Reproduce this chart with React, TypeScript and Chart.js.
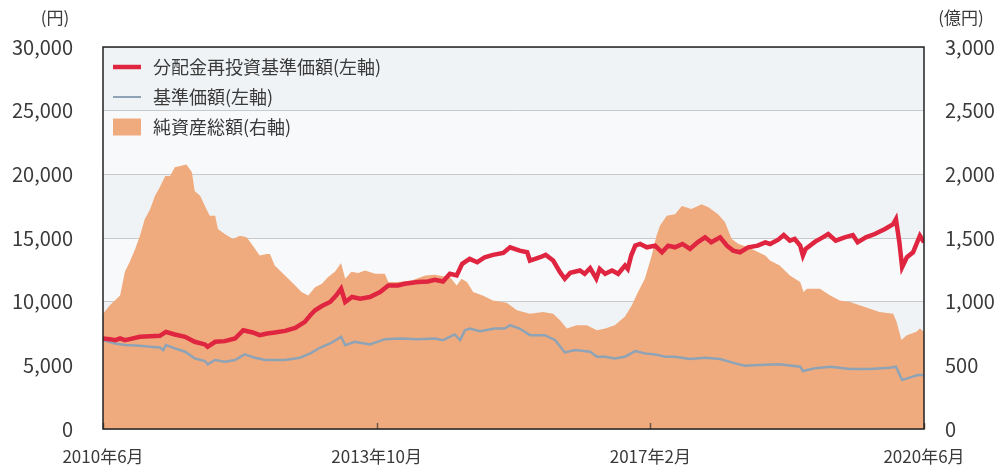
import React, { useEffect, useRef } from 'react';
import { Chart, registerables } from 'chart.js';

Chart.register(...registerables);

// ---- data (months since 2010-06) ----
const xTickMonths = [0, 40, 80, 120];
const xTickLabels = ['2010年6月', '2013年10月', '2017年2月', '2020年6月'];
const leftTickStep = 5000;
const leftMax = 30000;
const rightTickStep = 500;
const rightMax = 3000;

const seriesLabels = ['分配金再投資基準価額(左軸)', '基準価額(左軸)', '純資産総額(右軸)'];
const unitLeft = '(円)';
const unitRight = '(億円)';

// 純資産総額 (億円)
const assetMonths = [0, 1.0, 2.5, 3.2, 3.9, 4.7, 5.4, 6.1, 6.9, 7.6, 8.3, 9.1, 9.8, 10.5, 11.3, 12.2, 13.0, 13.4, 14.2, 14.9, 15.6, 16.4, 16.8, 17.8, 19.0, 20.0, 21.0, 21.9, 22.9, 23.9, 24.4, 25.1, 26.6, 28.1, 29.0, 30.0, 31.0, 32.0, 32.9, 33.9, 34.8, 35.4, 36.3, 37.3, 38.3, 39.8, 41.2, 41.7, 43.1, 45.1, 47.1, 48.5, 49.7, 50.7, 51.7, 52.4, 53.2, 54.1, 55.5, 57.0, 59.0, 59.5, 60.5, 62.4, 64.3, 65.8, 66.8, 67.8, 69.2, 70.7, 72.2, 73.4, 74.8, 76.3, 77.3, 78.2, 79.2, 80.2, 80.9, 81.4, 82.4, 83.6, 84.6, 86.0, 87.5, 88.5, 89.9, 90.9, 91.9, 92.9, 94.3, 95.8, 96.8, 97.5, 98.9, 100.4, 101.9, 102.4, 102.9, 104.8, 106.3, 107.7, 109.2, 110.6, 112.1, 113.5, 115.5, 116.0, 116.7, 117.5, 118.9, 119.4, 120];
const assetValues = [906, 971, 1049, 1234, 1312, 1414, 1518, 1648, 1727, 1831, 1898, 1987, 1987, 2055, 2065, 2078, 2016, 1870, 1831, 1752, 1674, 1674, 1570, 1531, 1492, 1518, 1505, 1440, 1362, 1375, 1375, 1284, 1205, 1127, 1076, 1049, 1114, 1140, 1193, 1234, 1304, 1180, 1234, 1226, 1245, 1219, 1219, 1154, 1154, 1167, 1205, 1211, 1200, 1193, 1127, 1180, 1154, 1076, 1049, 1010, 992, 971, 932, 906, 919, 906, 854, 789, 815, 815, 776, 789, 815, 883, 971, 1076, 1180, 1362, 1518, 1596, 1674, 1687, 1752, 1727, 1765, 1742, 1687, 1625, 1492, 1453, 1427, 1388, 1362, 1323, 1284, 1205, 1154, 1076, 1101, 1101, 1049, 1010, 997, 971, 945, 919, 906, 841, 698, 737, 763, 789, 763];

// 分配金再投資基準価額 (円)
const reinvMonths = [0, 1.0, 1.8, 2.5, 3.2, 3.9, 5.4, 6.9, 8.3, 9.2, 10.5, 12.0, 13.4, 14.9, 15.3, 16.4, 17.8, 19.3, 20.5, 21.9, 22.9, 24.0, 25.1, 26.6, 28.1, 29.5, 30.3, 31.0, 32.0, 33.2, 34.1, 34.8, 35.4, 36.4, 37.6, 39.0, 40.5, 41.7, 43.1, 44.1, 46.0, 47.5, 48.5, 49.7, 50.7, 51.7, 52.5, 53.6, 54.7, 55.8, 57.0, 58.5, 59.5, 60.9, 62.0, 62.4, 63.9, 64.7, 65.8, 66.8, 67.5, 68.3, 69.7, 70.4, 71.2, 72.1, 72.6, 73.4, 74.4, 75.3, 76.3, 76.7, 77.2, 77.8, 78.5, 79.5, 80.7, 81.7, 82.6, 83.6, 84.7, 85.8, 86.9, 88.0, 88.9, 90.2, 91.2, 92.1, 93.1, 94.3, 95.7, 96.8, 97.5, 98.7, 99.5, 100.4, 101.1, 101.9, 102.3, 102.7, 104.1, 105.2, 106.0, 107.1, 108.4, 109.6, 110.3, 111.5, 112.8, 114.3, 115.5, 115.9, 116.4, 116.8, 117.5, 118.4, 119.4, 120];
const reinvValues = [7109, 7057, 6979, 7109, 6979, 7057, 7240, 7292, 7318, 7630, 7422, 7240, 6849, 6641, 6458, 6849, 6901, 7109, 7760, 7578, 7370, 7500, 7578, 7708, 7943, 8411, 8932, 9323, 9661, 9974, 10495, 11016, 9974, 10365, 10234, 10365, 10755, 11276, 11276, 11406, 11536, 11589, 11719, 11589, 12188, 12057, 12969, 13359, 13099, 13490, 13672, 13828, 14271, 14010, 13880, 13229, 13490, 13672, 13229, 12318, 11797, 12266, 12448, 12188, 12630, 11800, 12578, 12188, 12448, 12188, 12839, 12578, 13620, 14401, 14531, 14271, 14401, 13880, 14401, 14271, 14531, 14141, 14661, 15052, 14661, 15052, 14401, 14010, 13880, 14271, 14401, 14661, 14531, 14870, 15234, 14792, 14922, 14401, 13620, 14141, 14714, 15052, 15313, 14792, 15052, 15234, 14661, 15052, 15313, 15703, 16094, 16484, 14661, 12709, 13490, 13880, 15182, 14661];

// 基準価額 (円)
const navMonths = [0, 1.8, 3.2, 5.4, 6.9, 8.3, 8.8, 9.2, 10.5, 12.0, 13.4, 14.9, 15.3, 16.4, 17.8, 19.3, 20.7, 22.2, 23.7, 26.6, 28.8, 30.3, 31.7, 33.2, 34.8, 35.4, 36.8, 39.0, 41.2, 43.4, 46.0, 48.5, 49.7, 51.4, 52.2, 52.9, 53.6, 55.1, 57.3, 58.7, 59.5, 60.9, 62.4, 64.6, 66.1, 67.5, 69.0, 71.2, 72.2, 73.4, 74.8, 76.3, 77.8, 79.2, 80.7, 82.2, 83.6, 85.8, 88.0, 90.2, 92.4, 93.8, 96.0, 98.9, 101.9, 102.3, 104.1, 106.3, 109.2, 112.1, 115.0, 115.9, 116.8, 117.9, 119.1, 120];
const navValues = [6979, 6719, 6589, 6536, 6458, 6406, 6198, 6589, 6328, 6068, 5547, 5339, 5078, 5417, 5286, 5417, 5859, 5599, 5417, 5417, 5599, 5938, 6380, 6719, 7240, 6589, 6849, 6641, 7057, 7109, 7057, 7109, 6979, 7422, 6979, 7760, 7890, 7682, 7890, 7890, 8151, 7890, 7370, 7370, 6979, 6016, 6198, 6068, 5677, 5677, 5547, 5677, 6120, 5938, 5859, 5677, 5677, 5495, 5599, 5495, 5156, 4974, 5026, 5078, 4896, 4557, 4766, 4896, 4714, 4714, 4818, 4896, 3854, 4036, 4245, 4245];

// ---- styles ----
const FONT = "'Noto Sans CJK JP', 'Noto Sans', sans-serif";
const TEXT = '#3a3a3a';
const RED = '#df2540';
const GRAY = '#8ea3b6';
const ORANGE = '#efab7d';
const BAND_LIGHT = '#f8f9fb';
const BAND_DARK = '#f0f3f5';

const toPoints = (xs: number[], ys: number[]) => xs.map((x, i) => ({ x, y: ys[i] }));

const decorPlugin = {
  id: 'decor',
  beforeDraw(chart: any) {
    const { ctx, chartArea: a, scales } = chart;
    const y = scales.y;
    ctx.save();
    for (let v = 0, i = 0; v < leftMax; v += leftTickStep, i++) {
      const top = y.getPixelForValue(v + leftTickStep);
      const bot = y.getPixelForValue(v);
      ctx.fillStyle = i % 2 === 1 ? BAND_DARK : BAND_LIGHT;
      ctx.fillRect(a.left, top, a.right - a.left, bot - top);
    }
    ctx.restore();
  },
  afterDatasetsDraw(chart: any) {
    const { ctx, chartArea: a, scales } = chart;
    ctx.save();
    // tick marks inside plot bottom
    ctx.strokeStyle = '#6e5546';
    ctx.lineWidth = 1.5;
    xTickMonths.forEach((m) => {
      const px = Math.round(scales.x.getPixelForValue(m)) + 0.5;
      ctx.beginPath();
      ctx.moveTo(px, a.bottom);
      ctx.lineTo(px, a.bottom - 6);
      ctx.stroke();
    });
    // frame
    ctx.strokeStyle = '#222';
    ctx.lineWidth = 1.5;
    ctx.strokeRect(a.left, a.top, a.right - a.left, a.bottom - a.top);

    // legend
    const items = [
      { kind: 'line', color: RED, width: 4.5 },
      { kind: 'line', color: GRAY, width: 2 },
      { kind: 'box', color: ORANGE },
    ];
    ctx.font = `18px ${FONT}`;
    ctx.textBaseline = 'middle';
    ctx.textAlign = 'left';
    items.forEach((it, i) => {
      const cy = a.top + 20 + i * 30;
      const x0 = a.left + 10;
      const x1 = a.left + 38;
      if (it.kind === 'line') {
        ctx.strokeStyle = it.color;
        ctx.lineWidth = it.width as number;
        ctx.beginPath();
        ctx.moveTo(x0, cy);
        ctx.lineTo(x1, cy);
        ctx.stroke();
      } else {
        ctx.fillStyle = it.color;
        ctx.fillRect(x0, cy - 8.5, x1 - x0, 17);
      }
      ctx.fillStyle = TEXT;
      ctx.fillText(seriesLabels[i], a.left + 50, cy);
    });

    // unit labels
    ctx.font = `17px ${FONT}`;
    ctx.textAlign = 'center';
    ctx.fillText(unitLeft, 55, 18);
    ctx.fillText(unitRight, 961, 18);
    ctx.restore();
  },
};

export default function App() {
  const ref = useRef<HTMLCanvasElement | null>(null);

  useEffect(() => {
    document.body.style.margin = '0';
    const canvas = ref.current!;
    const chart = new Chart(canvas, {
      type: 'line',
      data: {
        datasets: [
          {
            label: seriesLabels[0],
            data: toPoints(reinvMonths, reinvValues),
            borderColor: RED,
            borderWidth: 4.5,
            pointRadius: 0,
            tension: 0,
            fill: false,
            yAxisID: 'y',
            order: 0,
          },
          {
            label: seriesLabels[1],
            data: toPoints(navMonths, navValues),
            borderColor: GRAY,
            borderWidth: 2.5,
            pointRadius: 0,
            tension: 0,
            fill: false,
            yAxisID: 'y',
            order: 1,
          },
          {
            label: seriesLabels[2],
            data: toPoints(assetMonths, assetValues),
            borderWidth: 0,
            borderColor: ORANGE,
            backgroundColor: ORANGE,
            pointRadius: 0,
            tension: 0,
            fill: 'origin',
            yAxisID: 'y2',
            order: 2,
          },
        ],
      },
      options: {
        responsive: false,
        animation: false,
        layout: { padding: { top: 47, left: 0, right: 0, bottom: 0 } },
        plugins: { legend: { display: false }, tooltip: { enabled: false } },
        scales: {
          x: {
            type: 'linear',
            min: 0,
            max: 120,
            grid: { display: false, drawTicks: false },
            border: { display: false },
            afterBuildTicks: (s: any) => {
              s.ticks = xTickMonths.map((v) => ({ value: v }));
            },
            afterFit: (s: any) => {
              s.height = 40;
            },
            ticks: {
              autoSkip: false,
              maxRotation: 0,
              padding: 17,
              color: TEXT,
              font: { family: FONT, size: 17 },
              callback: (v: any) => {
                const i = xTickMonths.indexOf(Number(v));
                return i >= 0 ? xTickLabels[i] : '';
              },
            },
          },
          y: {
            position: 'left',
            min: 0,
            max: leftMax,
            grid: { color: '#c9c9c9', lineWidth: 1, drawTicks: false },
            border: { display: false },
            afterFit: (s: any) => {
              s.width = 103;
            },
            ticks: {
              stepSize: leftTickStep,
              padding: 30,
              color: TEXT,
              font: { family: FONT, size: 20 },
              callback: (v: any) => Number(v).toLocaleString('en-US'),
            },
          },
          y2: {
            position: 'right',
            min: 0,
            max: rightMax,
            grid: { display: false, drawTicks: false },
            border: { display: false },
            afterFit: (s: any) => {
              s.width = 78;
            },
            ticks: {
              stepSize: rightTickStep,
              padding: 21,
              color: TEXT,
              font: { family: FONT, size: 20 },
              callback: (v: any) => Number(v).toLocaleString('en-US'),
            },
          },
        },
      },
      plugins: [decorPlugin],
    } as any);
    return () => chart.destroy();
  }, []);

  return (
    <div style={{ width: 1002, height: 471 }}>
      <canvas ref={ref} width={1002} height={471} style={{ display: 'block' }} />
    </div>
  );
}
